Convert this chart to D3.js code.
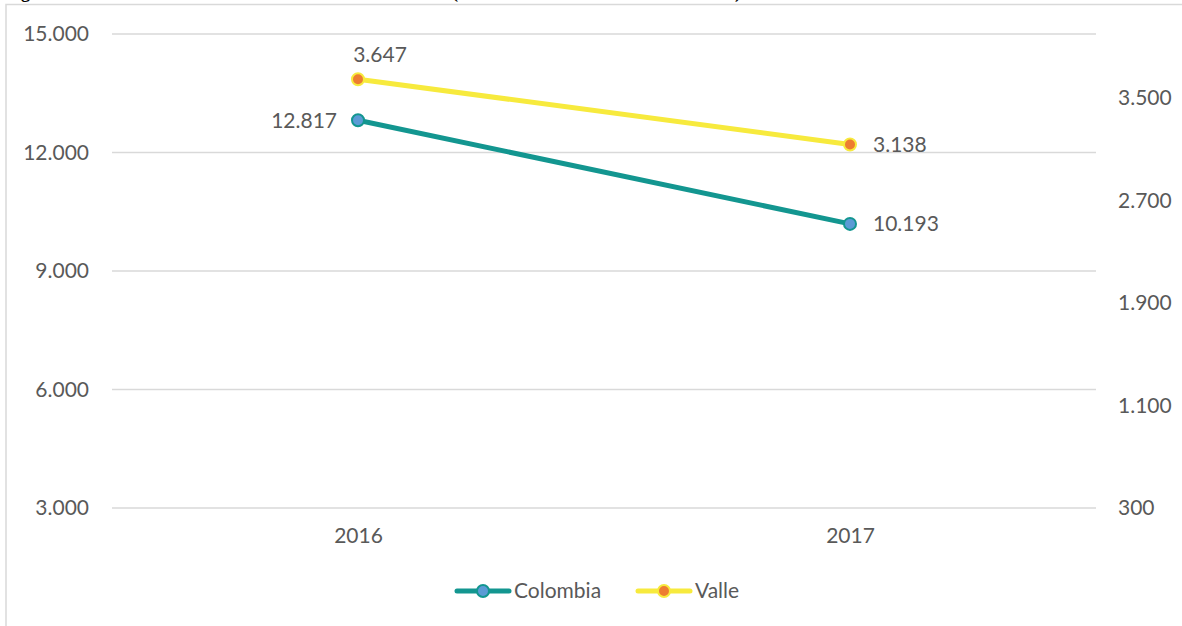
<!DOCTYPE html>
<html>
<head>
<meta charset="utf-8">
<script src="https://cdn.jsdelivr.net/npm/d3@7"></script>
<style>
  html, body { margin: 0; padding: 0; background: #fff; }
  svg { display: block; }
  text { font-family: Lato, "Open Sans", sans-serif; fill: #595959; }
</style>
</head>
<body>
<svg id="chart" width="1182" height="626"></svg>
<script>
// ---- data ----
const years = ["2016", "2017"];
const colombia = [12817, 10193];
const valle = [3647, 3138];
const colombiaLabels = ["12.817", "10.193"];
const valleLabels = ["3.647", "3.138"];
const leftTicks = [3000, 6000, 9000, 12000, 15000];
const rightTicks = [300, 1100, 1900, 2700, 3500];
const seriesNames = ["Colombia", "Valle"];

const fmt = v => d3.format(",")(v).replace(/,/g, ".");
const FS = "21px";

const svg = d3.select("#chart");
const W = 1182, H = 626;

// cut-off title above the frame (as in the reference)
[["Figura", 5], ["(", 452], [")", 735]].forEach(([t, xx]) => {
  svg.append("text").attr("x", xx).attr("y", -2)
    .style("font-family", "'Liberation Serif', serif").style("font-weight", "bold")
    .style("font-size", "18px").style("fill", "#000").text(t);
});

// chart frame
svg.append("rect").attr("x", 6).attr("y", 4.5).attr("width", W + 20).attr("height", H + 20)
  .attr("fill", "none").attr("stroke", "#d9d9d9").attr("stroke-width", 1.5);

const plot = { left: 112, right: 1096, top: 34, bottom: 508 };

const x = d3.scalePoint().domain(years).range([plot.left, plot.right]).padding(0.5);
const yL = d3.scaleLinear().domain([3000, 15000]).range([plot.bottom, plot.top]);
const yR = d3.scaleLinear().domain([300, 4000]).range([plot.bottom, plot.top]);

// gridlines
svg.append("g").selectAll("line").data(leftTicks).join("line")
  .attr("x1", plot.left).attr("x2", plot.right)
  .attr("y1", d => yL(d)).attr("y2", d => yL(d))
  .attr("stroke", "#d9d9d9").attr("stroke-width", 1.5);

function styleAxis(g) {
  g.select(".domain").remove();
  g.selectAll("text").style("font-size", FS)
    .style("font-family", "Lato, 'Open Sans', sans-serif").attr("fill", "#595959");
}

// left axis
svg.append("g").attr("transform", `translate(${plot.left},0)`)
  .call(d3.axisLeft(yL).tickValues(leftTicks).tickFormat(fmt).tickSize(0).tickPadding(23))
  .call(styleAxis);

// right axis
svg.append("g").attr("transform", `translate(${plot.right},0)`)
  .call(d3.axisRight(yR).tickValues(rightTicks).tickFormat(fmt).tickSize(0).tickPadding(22))
  .call(styleAxis);

// bottom axis
svg.append("g").attr("transform", `translate(0,${plot.bottom})`)
  .call(d3.axisBottom(x).tickSize(0).tickPadding(20))
  .call(styleAxis);

const teal = "#139690", blue = "#5B9BD5", yellow = "#F7EA3D", orange = "#ED7D31";

const lineL = d3.line().x((d, i) => x(years[i])).y(d => yL(d));
const lineR = d3.line().x((d, i) => x(years[i])).y(d => yR(d));

svg.append("path").datum(colombia).attr("d", lineL)
  .attr("fill", "none").attr("stroke", teal).attr("stroke-width", 5).attr("stroke-linecap", "round");
svg.append("path").datum(valle).attr("d", lineR)
  .attr("fill", "none").attr("stroke", yellow).attr("stroke-width", 5).attr("stroke-linecap", "round");

svg.append("g").selectAll("circle").data(colombia).join("circle")
  .attr("cx", (d, i) => x(years[i])).attr("cy", d => yL(d)).attr("r", 6)
  .attr("fill", blue).attr("stroke", teal).attr("stroke-width", 2);
svg.append("g").selectAll("circle").data(valle).join("circle")
  .attr("cx", (d, i) => x(years[i])).attr("cy", d => yR(d)).attr("r", 6)
  .attr("fill", orange).attr("stroke", yellow).attr("stroke-width", 2);

// data labels
const lbl = svg.append("g").style("font-size", FS);
colombia.forEach((v, i) => {
  const px = x(years[i]), py = yL(v);
  lbl.append("text")
    .attr("x", i === 0 ? px - 21 : px + 23)
    .attr("y", py).attr("dy", "0.35em")
    .attr("text-anchor", i === 0 ? "end" : "start")
    .text(colombiaLabels[i]);
});
valle.forEach((v, i) => {
  const px = x(years[i]), py = yR(v);
  lbl.append("text")
    .attr("x", i === 0 ? px + 22 : px + 23)
    .attr("y", i === 0 ? py - 25 : py).attr("dy", "0.35em")
    .attr("text-anchor", i === 0 ? "middle" : "start")
    .text(valleLabels[i]);
});

// legend
const legend = svg.append("g");
const legendItems = [
  { name: seriesNames[0], x0: 457, line: teal, fill: blue, stroke: teal },
  { name: seriesNames[1], x0: 638, line: yellow, fill: orange, stroke: yellow }
];
const ly = 591;
legendItems.forEach(it => {
  legend.append("line").attr("x1", it.x0).attr("x2", it.x0 + 52).attr("y1", ly).attr("y2", ly)
    .attr("stroke", it.line).attr("stroke-width", 5).attr("stroke-linecap", "round");
  legend.append("circle").attr("cx", it.x0 + 26).attr("cy", ly).attr("r", 6)
    .attr("fill", it.fill).attr("stroke", it.stroke).attr("stroke-width", 2);
  legend.append("text").attr("x", it.x0 + 57).attr("y", ly).attr("dy", "0.35em")
    .style("font-size", FS).text(it.name);
});
</script>
</body>
</html>
